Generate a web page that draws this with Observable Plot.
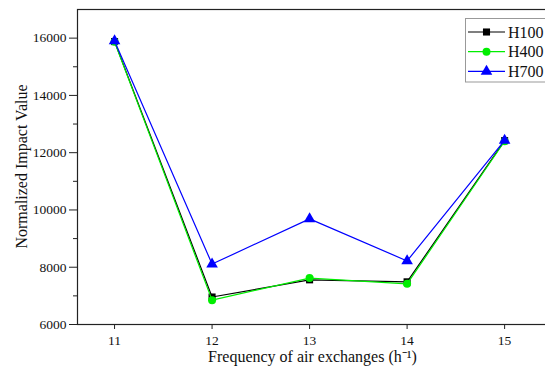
<!DOCTYPE html>
<html>
<head>
<meta charset="utf-8">
<script src="https://cdn.jsdelivr.net/npm/d3@7"></script>
<script src="https://cdn.jsdelivr.net/npm/@observablehq/plot@0.6"></script>
<style>
  html, body { margin: 0; padding: 0; background: #fff; overflow: hidden; }
  #chart svg { max-width: none; display: block; }
</style>
</head>
<body>
<div id="chart"></div>
<script>
// Air exchange frequency (h^-1)
const freq = [11, 12, 13, 14, 15];
// Normalized impact value per ventilation height
const h100 = [15880, 6960, 7560, 7490, 12420];
const h400 = [15870, 6850, 7620, 7420, 12400];
const h700 = [15900, 8110, 9690, 8220, 12430];

const seriesNames = ["H100", "H400", "H700"];
const seriesValues = [h100, h400, h700];
const seriesColors = ["#000000", "#00ee00", "#0000ff"];
const seriesSymbols = ["square", "circle", "triangle"];

const yMajor = [6000, 8000, 10000, 12000, 14000, 16000];
const yMinor = [7000, 9000, 11000, 13000, 15000];
const yTitle = "Normalized Impact Value";
const xTitle = "Frequency of air exchanges (h\u207B\u00B9)";

const rows = [];
seriesNames.forEach((name, i) => {
  freq.forEach((f, j) => rows.push({series: name, x: f, y: seriesValues[i][j]}));
});

const serif = "'Liberation Serif', 'Times New Roman', serif";
const axisColor = "#222";
const marks = [
  Plot.frame({stroke: axisColor, strokeWidth: 1.2}),
  Plot.axisY({ticks: yMinor, tickSize: 4, tickFormat: () => "", label: null, stroke: axisColor}),
  Plot.axisY({ticks: yMajor, tickSize: 8, tickPadding: 3, tickFormat: d => String(d),
    label: null, stroke: axisColor, fill: "#111", fontSize: 13.5}),
  Plot.axisX({ticks: freq, tickSize: 5, tickPadding: 6, tickFormat: d => String(d),
    label: null, stroke: axisColor, fill: "#111", fontSize: 13.5})
];
seriesNames.forEach((name, i) => {
  const data = rows.filter(d => d.series === name);
  marks.push(Plot.line(data, {x: "x", y: "y", stroke: seriesColors[i], strokeWidth: 1.2}));
  marks.push(Plot.dot(data, {x: "x", y: "y", fill: seriesColors[i], stroke: "none",
    symbol: seriesSymbols[i], r: seriesSymbols[i] === "triangle" ? 4.3 : 4}));
});

const chart = Plot.plot({
  width: 548,
  height: 369,
  marginLeft: 77,
  marginRight: 0,
  marginTop: 9,
  marginBottom: 45,
  style: {background: "#fff", fontFamily: serif},
  x: {domain: [10.62, 15.45]},
  y: {domain: [6000, 17000]},
  marks
});

const svg = d3.select(chart);
const xs = chart.scale("x").range;
const ys = chart.scale("y").range;

// Axis titles
const titles = svg.append("g").attr("text-anchor", "middle").attr("fill", "#111");
titles.append("text")
  .attr("transform", `translate(21,${(ys[0] + ys[1]) / 2}) rotate(-90)`)
  .attr("dy", "0.35em").attr("font-size", 16).text(yTitle);
titles.append("text")
  .attr("x", (xs[0] + xs[1]) / 2).attr("y", 356).attr("dy", "0.35em")
  .attr("font-size", 16).text(xTitle);

// Legend box in the upper right of the plot area
const lg = svg.append("g").attr("text-anchor", "start");
lg.append("rect").attr("x", 465.5).attr("y", 18.5).attr("width", 100).attr("height", 63.5)
  .attr("fill", "#fff").attr("stroke", "#999").attr("stroke-width", 1);
const sym = d3.scaleOrdinal(seriesSymbols, [d3.symbolSquare, d3.symbolCircle, d3.symbolTriangle]);
seriesNames.forEach((name, i) => {
  const cy = 32 + i * 19.7;
  lg.append("line").attr("x1", 468).attr("x2", 505).attr("y1", cy).attr("y2", cy)
    .attr("stroke", seriesColors[i]).attr("stroke-width", 1.2);
  lg.append("path").attr("transform", `translate(486.5,${cy})`)
    .attr("d", d3.symbol(sym(seriesSymbols[i]), Math.PI * (i === 2 ? 4.3 : 4) ** 2)())
    .attr("fill", seriesColors[i]);
  lg.append("text").attr("x", 508).attr("y", cy).attr("dy", "0.35em")
    .attr("font-size", 16).attr("fill", "#111").text(name);
});

// Serif face on every label
svg.selectAll("text").style("font-family", serif);

document.getElementById("chart").appendChild(chart);
</script>
</body>
</html>
